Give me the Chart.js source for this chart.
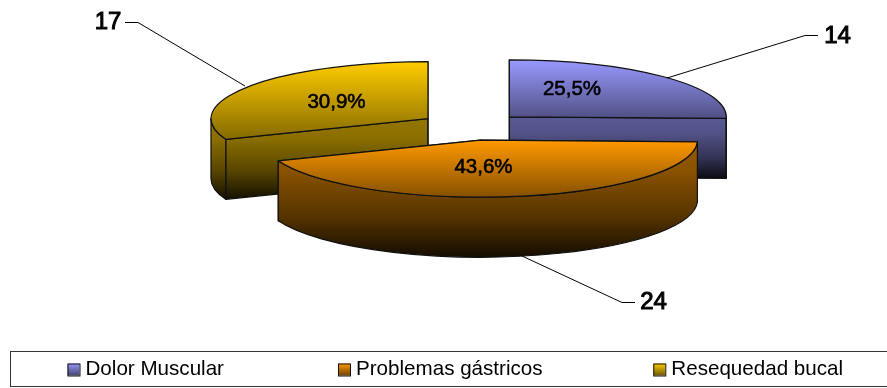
<!DOCTYPE html>
<html>
<head>
<meta charset="utf-8">
<style>
  html, body { margin: 0; padding: 0; background: #fff; }
  canvas { display: block; }
</style>
<script src="https://cdn.jsdelivr.net/npm/chart.js@4/dist/chart.umd.min.js"></script>
</head>
<body>
<canvas id="chart" width="887" height="388"></canvas>
<script>
var categories = ['Dolor Muscular', 'Problemas gástricos', 'Resequedad bucal'];
var cases = [14, 24, 17];
var colors = ['#9999ff', '#ff9900', '#ffcc00'];

//back slices first, the front one covers them
var draw_order = [0, 2, 1];

//tilted disc
var disc = { x: 471.5, y: 126.5, rx: 217, ry: 57, depth: 60, explode: 0.243 };

//text anchors, same order as categories
var percent_pos = [[572, 89], [483.5, 167], [336.5, 102.5]];
var count_pos = [[837.5, 36], [653.5, 302], [108, 22.5]];
var leaders = [
  [[667, 78], [805, 35], [818, 35]],
  [[522, 256], [622, 302], [635, 302]],
  [[245, 86], [138, 22], [125, 22]]
];

//legend strip
var legend_box = { x: 10.5, y: 351.5, w: 890, h: 35 };
var legend_x = [67.5, 338, 653.3], legend_text_dx = 18;

var font_family = '"Liberation Sans", Arial, sans-serif';

function shade(hex, k){
  var r = parseInt(hex.substr(1, 2), 16),
      g = parseInt(hex.substr(3, 2), 16),
      b = parseInt(hex.substr(5, 2), 16);
  return 'rgb(' + Math.round(r*k) + ',' + Math.round(g*k) + ',' + Math.round(b*k) + ')';
}

//y extent of a slice on the unit circle
function sinRange(arc){
  var lo = Math.min(0, Math.sin(arc.startAngle), Math.sin(arc.endAngle)),
      hi = Math.max(0, Math.sin(arc.startAngle), Math.sin(arc.endAngle));
  if(arc.startAngle <= Math.PI/2 && arc.endAngle >= Math.PI/2) hi = 1;
  if(arc.startAngle <= -Math.PI/2 || arc.endAngle >= 3*Math.PI/2) lo = -1;
  return [lo, hi];
}

function drawSlice(chart, arc, color){
  var ctx = chart.ctx,
      mid = (arc.startAngle + arc.endAngle)/2,
      ex = disc.x + disc.explode*disc.rx*Math.cos(mid),
      ey = disc.y + disc.explode*disc.ry*Math.sin(mid),
      range = sinRange(arc),
      a0 = arc.startAngle, a1 = arc.endAngle;

  //sides, shaded from the rim down to the base
  var side = ctx.createLinearGradient(0, ey, 0, ey + range[1]*disc.ry + disc.depth);
  side.addColorStop(0, shade(color, 0.58));
  side.addColorStop(0.25, shade(color, 0.54));
  side.addColorStop(0.65, shade(color, 0.34));
  side.addColorStop(1, shade(color, 0.08));
  ctx.save();
  ctx.fillStyle = side;
  ctx.strokeStyle = '#111';
  ctx.lineWidth = 1.2;
  ctx.lineJoin = 'round';

  [a0, a1].forEach(function(a){
    var px = ex + disc.rx*Math.cos(a), py = ey + disc.ry*Math.sin(a);
    ctx.beginPath();
    ctx.moveTo(ex, ey);
    ctx.lineTo(px, py);
    ctx.lineTo(px, py + disc.depth);
    ctx.lineTo(ex, ey + disc.depth);
    ctx.closePath();
    ctx.fill();
    ctx.stroke();
  });

  var w0 = Math.max(a0, 0), w1 = Math.min(a1, Math.PI);
  if(w1 > w0){
    ctx.beginPath();
    ctx.ellipse(ex, ey, disc.rx, disc.ry, 0, w0, w1);
    ctx.lineTo(ex + disc.rx*Math.cos(w1), ey + disc.ry*Math.sin(w1) + disc.depth);
    ctx.ellipse(ex, ey + disc.depth, disc.rx, disc.ry, 0, w1, w0, true);
    ctx.closePath();
    ctx.fill();
    ctx.stroke();
  }
  ctx.restore();

  //top face: the library's arc, mapped onto the tilted disc
  var r = arc.outerRadius;
  ctx.save();
  ctx.translate(ex, ey);
  ctx.scale(disc.rx/r, disc.ry/r);
  ctx.translate(-arc.x, -arc.y);
  var top = ctx.createLinearGradient(0, arc.y + range[0]*r, 0, arc.y + range[1]*r);
  top.addColorStop(0, color);
  top.addColorStop(1, shade(color, 0.52));
  var base_options = arc.options;
  arc.options = Object.assign({}, base_options, { backgroundColor: top });
  arc.draw(ctx);
  arc.options = base_options;
  ctx.restore();

  //outline of the top face, kept out of the scaled space so it stays even
  ctx.save();
  ctx.strokeStyle = '#111';
  ctx.lineWidth = 1.2;
  ctx.lineJoin = 'round';
  ctx.beginPath();
  ctx.moveTo(ex, ey);
  ctx.ellipse(ex, ey, disc.rx, disc.ry, 0, a0, a1);
  ctx.closePath();
  ctx.stroke();
  ctx.restore();
}

function drawLabels(chart){
  var ctx = chart.ctx,
      total = cases.reduce(function(a, b){ return a + b; }, 0);
  ctx.save();
  ctx.textAlign = 'center';
  ctx.textBaseline = 'middle';
  ctx.fillStyle = '#000';
  ctx.strokeStyle = '#000';
  cases.forEach(function(value, i){
    var line = leaders[i];
    ctx.lineWidth = 1;
    ctx.beginPath();
    ctx.moveTo(line[0][0], line[0][1]);
    ctx.lineTo(line[1][0], line[1][1] + 0.5);
    ctx.lineTo(line[2][0], line[2][1] + 0.5);
    ctx.stroke();

    ctx.font = '24px ' + font_family;
    ctx.lineWidth = 1;
    ctx.fillText(String(value), count_pos[i][0], count_pos[i][1]);
    ctx.strokeText(String(value), count_pos[i][0], count_pos[i][1]);

    ctx.font = '20.5px ' + font_family;
    ctx.lineWidth = 0.6;
    var text = (value/total*100).toFixed(1).replace('.', ',') + '%';
    ctx.fillText(text, percent_pos[i][0], percent_pos[i][1]);
    ctx.strokeText(text, percent_pos[i][0], percent_pos[i][1]);
  });
  ctx.restore();
}

function drawLegend(chart){
  var ctx = chart.ctx,
      mid_y = legend_box.y + legend_box.h/2 + 0.5;
  ctx.save();
  ctx.strokeStyle = '#333';
  ctx.lineWidth = 1;
  ctx.strokeRect(legend_box.x, legend_box.y, legend_box.w, legend_box.h);

  ctx.font = '20.6px ' + font_family;
  ctx.textBaseline = 'middle';
  categories.forEach(function(name, i){
    var x = legend_x[i];
    var swatch = ctx.createLinearGradient(0, mid_y - 6, 0, mid_y + 6);
    swatch.addColorStop(0, colors[i]);
    swatch.addColorStop(1, shade(colors[i], 0.45));
    ctx.fillStyle = swatch;
    ctx.fillRect(x, mid_y - 6, 12, 12);
    ctx.strokeStyle = '#111';
    ctx.strokeRect(x + 0.5, mid_y - 5.5, 12, 12);

    ctx.fillStyle = '#000';
    ctx.fillText(name, x + legend_text_dx, mid_y);
  });
  ctx.restore();
}

var tilted_pie = {
  id: 'tiltedPie',
  beforeDatasetDraw: function(chart, args){
    var arcs = chart.getDatasetMeta(args.index).data;
    draw_order.forEach(function(i){
      drawSlice(chart, arcs[i], colors[i]);
    });
    return false;
  },
  afterDatasetsDraw: function(chart){
    drawLabels(chart);
    drawLegend(chart);
  }
};

var chart = new Chart(document.getElementById('chart'), {
  type: 'pie',
  data: {
    labels: categories,
    datasets: [{
      data: cases,
      backgroundColor: colors,
      borderWidth: 0
    }]
  },
  options: {
    responsive: false,
    animation: false,
    plugins: {
      legend: { display: false },
      tooltip: { enabled: false }
    }
  },
  plugins: [tilted_pie]
});
</script>
</body>
</html>
